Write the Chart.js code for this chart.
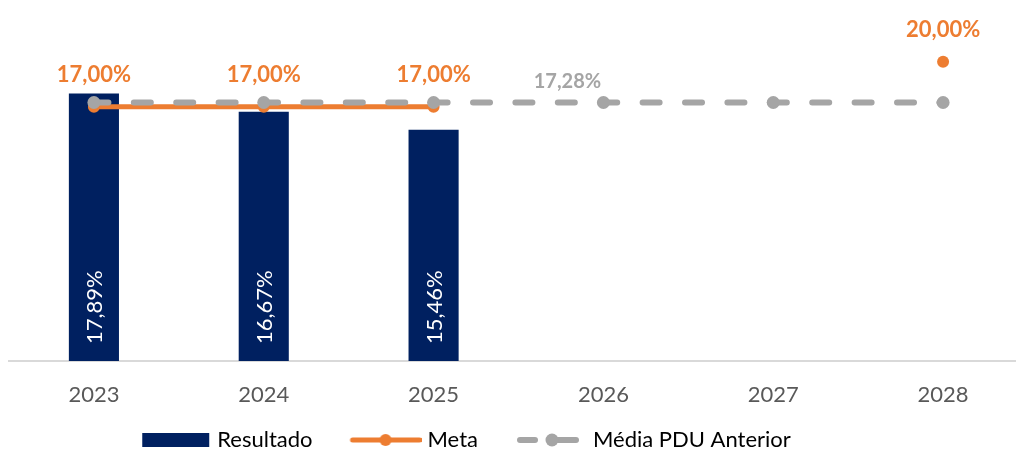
<!DOCTYPE html>
<html><head><meta charset="utf-8">
<script src="https://cdn.jsdelivr.net/npm/chart.js@4"></script>
<style>html,body{margin:0;padding:0;overflow:hidden;background:#fff;}#wrap{width:1028px;height:449px;}</style>
</head><body><div id="wrap"><canvas id="c" width="1028" height="449"></canvas></div>
<script>
const categories = ['2023', '2024', '2025', '2026', '2027', '2028'];
const resultado = [17.89, 16.67, 15.46, null, null, null];
const meta = [17.00, 17.00, 17.00, null, null, 20.00];
const mediaPDU = [17.28, 17.28, 17.28, 17.28, 17.28, 17.28];
const seriesNames = ['Resultado', 'Meta', 'Média PDU Anterior'];
const mediaLabelIndex = [3];
const yMin = 0, yMax = 24;

const NAVY = '#002060', ORANGE = '#ED7D31', GRAY = '#A5A5A5';
const FONT = 'Lato, "Open Sans", sans-serif';
const fmt = v => v.toFixed(2).replace('.', ',') + '%';

function marker(kind) {
  const c = document.createElement('canvas');
  c.width = 104; c.height = 20;
  const g = c.getContext('2d');
  if (kind === 0) {
    g.fillStyle = NAVY; g.fillRect(35, 3, 67, 14);
  } else if (kind === 1) {
    g.strokeStyle = ORANGE; g.lineWidth = 5; g.lineCap = 'round';
    g.beginPath(); g.moveTo(35, 10); g.lineTo(102, 10); g.stroke();
    g.fillStyle = ORANGE; g.beginPath(); g.arc(68, 10, 6, 0, Math.PI * 2); g.fill();
  } else {
    g.strokeStyle = GRAY; g.lineWidth = 6; g.lineCap = 'round';
    g.beginPath(); g.moveTo(37, 10); g.lineTo(52, 10); g.stroke();
    g.beginPath(); g.moveTo(69, 10); g.lineTo(93, 10); g.stroke();
    g.fillStyle = GRAY; g.beginPath(); g.arc(69, 10, 6.5, 0, Math.PI * 2); g.fill();
  }
  return c;
}

const labelPlugin = {
  id: 'valueLabels',
  afterDatasetsDraw(chart) {
    const ctx = chart.ctx;
    ctx.save();
    const mBar = chart.getDatasetMeta(0);
    mBar.data.forEach((el, i) => {
      const v = resultado[i];
      if (v == null) return;
      ctx.save();
      ctx.translate(el.x, el.base - 17);
      ctx.rotate(-Math.PI / 2);
      ctx.font = '22px ' + FONT;
      ctx.fillStyle = '#FFFFFF';
      ctx.textAlign = 'left';
      ctx.textBaseline = 'middle';
      ctx.fillText(fmt(v), 0, 1);
      ctx.restore();
    });
    const mMeta = chart.getDatasetMeta(1);
    ctx.font = 'bold 22px ' + FONT;
    ctx.fillStyle = ORANGE;
    ctx.textAlign = 'center';
    ctx.textBaseline = 'alphabetic';
    mMeta.data.forEach((el, i) => {
      const v = meta[i];
      if (v == null) return;
      ctx.fillText(fmt(v), el.x, el.y - 25);
    });
    const mMed = chart.getDatasetMeta(2);
    ctx.font = 'bold 20px ' + FONT;
    ctx.fillStyle = GRAY;
    mediaLabelIndex.forEach(i => {
      const el = mMed.data[i];
      ctx.fillText(fmt(mediaPDU[i]), el.x - 36, el.y - 15);
    });
    ctx.restore();
  }
};

const legendShift = {
  id: 'legendShift',
  afterLayout(chart) {
    const l = chart.legend;
    if (!l) return;
    const dx = -67, dy = 12;
    l.left += dx; l.right += dx; l.top += dy; l.bottom += dy;
  }
};

function build() {
  const markers = [marker(0), marker(1), marker(2)];
  new Chart(document.getElementById('c'), {
    data: {
      labels: categories,
      datasets: [
        { type: 'bar', label: seriesNames[0], data: resultado, backgroundColor: NAVY,
          categoryPercentage: 1, barPercentage: 0.295, order: 2 },
        { type: 'line', label: seriesNames[1], data: meta, borderColor: ORANGE, backgroundColor: ORANGE,
          borderWidth: 5, pointRadius: 6, pointBorderWidth: 0, pointBackgroundColor: ORANGE,
          spanGaps: false, fill: false, order: 1 },
        { type: 'line', label: seriesNames[2], data: mediaPDU, borderColor: GRAY, backgroundColor: GRAY,
          borderWidth: 6, borderDash: [17, 25.4], borderDashOffset: 2.5, borderCapStyle: 'round',
          pointRadius: 6.5, pointBorderWidth: 0, pointBackgroundColor: GRAY, fill: false, order: 0 }
      ]
    },
    options: {
      responsive: false,
      animation: false,
      events: [],
      layout: { autoPadding: false, padding: { left: 9, right: 0, top: 2, bottom: 0 } },
      scales: {
        x: {
          grid: { display: false, drawTicks: false },
          border: { display: true, color: '#D9D9D9', width: 2 },
          ticks: { color: '#595959', font: { family: FONT, size: 22 }, padding: 21, maxRotation: 0 },
          afterFit(scale) { scale.height = 46; }
        },
        y: { display: false, min: yMin, max: yMax }
      },
      plugins: {
        tooltip: { enabled: false },
        legend: {
          position: 'bottom',
          labels: {
            usePointStyle: true,
            pointStyleWidth: 94,
            boxHeight: 22,
            padding: 10,
            color: '#3a3a3a',
            font: { family: FONT, size: 22 },
            generateLabels() {
              return seriesNames.map((n, i) => ({
                text: n, datasetIndex: i, pointStyle: markers[i],
                fillStyle: 'transparent', strokeStyle: 'transparent', lineWidth: 0, hidden: false
              }));
            }
          }
        }
      }
    },
    plugins: [labelPlugin, legendShift]
  });
}

Promise.all([
  document.fonts.load('22px Lato'),
  document.fonts.load('bold 22px Lato')
]).then(build, build);
</script>
</body></html>
